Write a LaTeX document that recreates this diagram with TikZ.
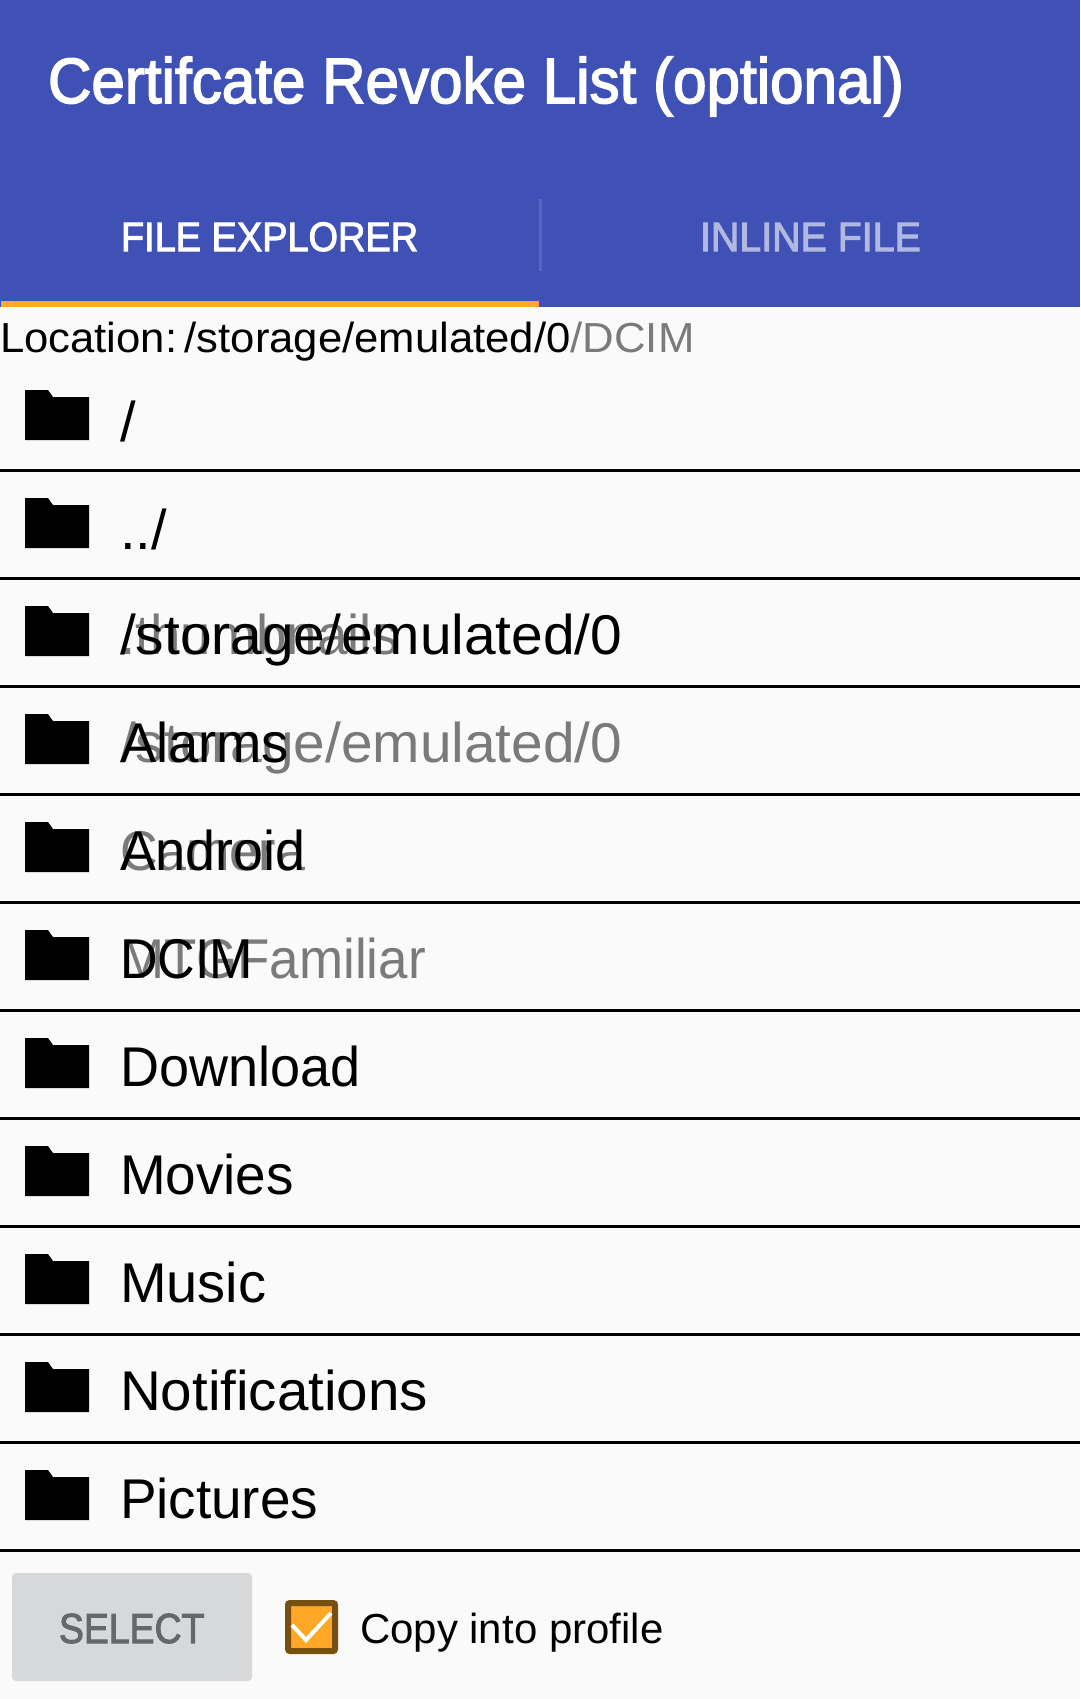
\documentclass[tikz,border=0pt]{standalone}
\usepackage{fontspec}
\usepackage{graphicx}
\setmainfont{Liberation Sans}
\newfontfamily\medfont[FakeBold=2.5]{Liberation Sans}
\definecolor{bluebar}{HTML}{3F51B5}
\definecolor{accent}{HTML}{FFA726}
\definecolor{pagebg}{HTML}{FAFAFA}
\definecolor{fadedtab}{HTML}{B2B9E1}
\definecolor{tabsep}{HTML}{5466BF}
\definecolor{greytext}{HTML}{7A7A7A}
\definecolor{btn}{HTML}{D6D8D9}
\definecolor{btntext}{HTML}{646868}
\definecolor{boxedge}{HTML}{774F10}
\tikzset{
  x=1pt,y=-1pt,
  txt/.style={inner sep=0pt,outer sep=0pt,anchor=base west},
  rowtxt/.style={txt,font=\fontsize{56}{60}\selectfont},
  rowfaded/.style={rowtxt,text=greytext},
  rule/.style={line width=3pt,black},
}
\newcommand{\sx}[2]{\scalebox{#1}[1]{#2}}
\newcommand{\folderat}[1]{%
  \fill[black] (25,#1+28) -- (48,#1+28) -- (53,#1+35) -- (89,#1+35) -- (89,#1+78) -- (25,#1+78) -- cycle;}
\begin{document}
\begin{tikzpicture}
\useasboundingbox (0,0) rectangle (1080,1699);
\fill[pagebg] (0,0) rectangle (1080,1699);
\fill[bluebar] (0,0) rectangle (1080,307);
\node[txt,text=white,font=\medfont\fontsize{64}{68}\selectfont] (title) at (48,103) {\sx{0.94}{Certifcate Revoke List (optional)}};
\node[txt,text=white,font=\medfont\fontsize{41}{44}\selectfont] (tabfile) at (121,251) {\sx{0.925}{FILE EXPLORER}};
\node[txt,text=fadedtab,font=\medfont\fontsize{41}{44}\selectfont] (tabinline) at (700,251) {\sx{0.96}{INLINE FILE}};
\fill[tabsep] (539,199) rectangle (542,271);
\fill[accent] (1,301) rectangle (539,307);
\node[txt,font=\fontsize{42}{46}\selectfont] (loc) at (0,352) {\sx{1.04}{Location:\kern-8.5pt{} /storage/emulated/0\textcolor{greytext}{/DCIM}}};
\foreach \t in {362,470,...,1442}{\folderat{\t}}
\foreach \t in {470,578,...,1550}{\draw[rule] (0,\t) -- (1080,\t);}
\node[rowfaded] (fadeA) at (120,654) {\sx{0.975}{.thumbnails}};
\node[rowfaded] (fadeB) at (120,762) {\sx{1.015}{/storage/emulated/0}};
\node[rowfaded] (fadeC) at (120,870) {\sx{0.93}{Camera}};
\node[rowfaded] (fadeD) at (120,978) {\sx{0.945}{MTGFamiliar}};
\node[rowtxt] (r1) at (120,441) {/};
\node[rowtxt] (r2) at (120,549) {../};
\node[rowtxt] (r3) at (120,654) {\sx{1.015}{/storage/emulated/0}};
\node[rowtxt] (r4) at (120,762) {\sx{0.97}{Alarms}};
\node[rowtxt] (r5) at (120,870) {\sx{0.96}{Android}};
\node[rowtxt] (r6) at (120,978) {\sx{0.93}{DCIM}};
\node[rowtxt] (r7) at (120,1086) {\sx{0.965}{Download}};
\node[rowtxt] (r8) at (120,1194) {\sx{0.98}{Movies}};
\node[rowtxt] (r9) at (120,1302) {Music};
\node[rowtxt] (r10) at (120,1410) {\sx{1.01}{Notifications}};
\node[rowtxt] (r11) at (120,1518) {\sx{0.98}{Pictures}};
\fill[btn,rounded corners=4pt] (12,1573) rectangle (252,1681);
\node[txt,text=btntext,font=\medfont\fontsize{42}{46}\selectfont] (sel) at (59,1643) {\sx{0.89}{SELECT}};
\draw[boxedge,fill=accent,line width=6pt,rounded corners=2pt] (288,1603) rectangle (335,1651);
\draw[white,line width=4pt] (292,1625) -- (306,1640) -- (331,1613);
\node[txt,font=\fontsize{42}{46}\selectfont] (copy) at (360,1643) {Copy into profile};
\end{tikzpicture}
\end{document}
